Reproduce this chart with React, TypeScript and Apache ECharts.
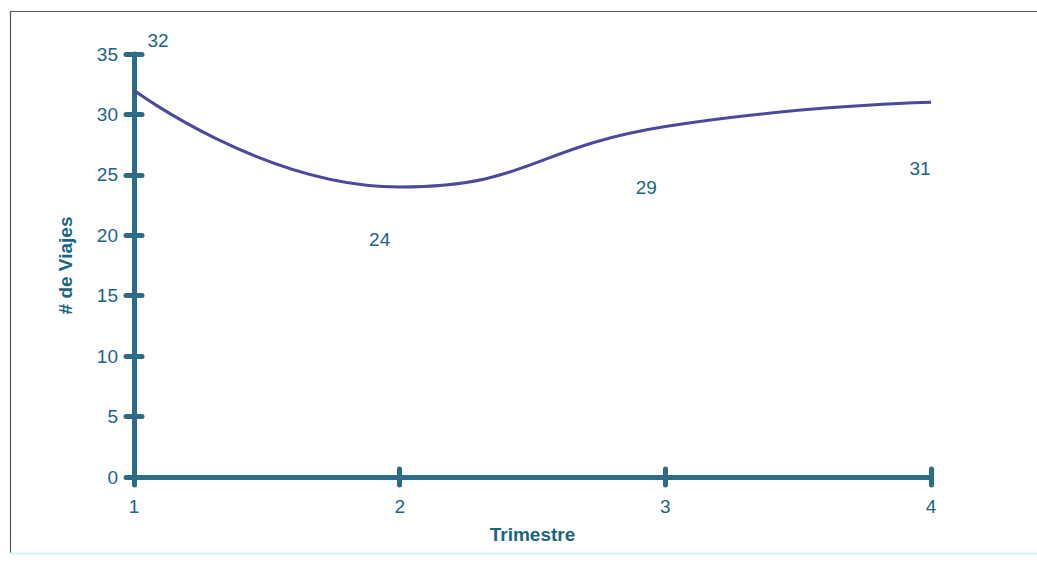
import React, { useEffect, useRef } from "react";
import * as echarts from "echarts";

// Trips per quarter
const quarters = ["1", "2", "3", "4"];
const trips = [32, 24, 29, 31];
// Where each value label sits relative to its point
const labelOffsets: [number, number][] = [
  [24, -50],
  [-20, 53],
  [-19, 61],
  [-11, 66],
];

const yMin = 0;
const yMax = 35;
const yStep = 5;

const axisColor = "#2b6c86";
const textColor = "#1a6585";
const lineColor = "#4c4a9c";
const font = "Liberation Sans, Arial, sans-serif";

export default function App() {
  const ref = useRef<HTMLDivElement>(null);

  useEffect(() => {
    if (!ref.current) return;
    const chart = echarts.init(ref.current, undefined, { renderer: "svg" });

    const tickStyle = { color: axisColor, width: 5, cap: "round" as const };

    chart.setOption({
      animation: false,
      backgroundColor: "#ffffff",
      grid: { left: 134, right: 106, top: 54, bottom: 86 },
      graphic: [
        {
          type: "line",
          shape: { x1: 10, y1: 11.5, x2: 1037, y2: 11.5 },
          style: { stroke: "#555", lineWidth: 1.2 },
        },
        {
          type: "line",
          shape: { x1: 10.5, y1: 11, x2: 10.5, y2: 553 },
          style: { stroke: "#555", lineWidth: 1.2 },
        },
        {
          type: "line",
          shape: { x1: 10, y1: 553.5, x2: 1037, y2: 553.5 },
          style: { stroke: "#d6f1f4", lineWidth: 2 },
        },
      ],
      xAxis: [
        {
          type: "category",
          data: quarters,
          boundaryGap: false,
          name: "Trimestre",
          nameLocation: "middle",
          nameGap: 48,
          nameTextStyle: {
            color: textColor,
            fontFamily: font,
            fontSize: 19,
            fontWeight: "bold",
          },
          axisLine: { lineStyle: { color: axisColor, width: 5 } },
          axisTick: { alignWithLabel: true, length: 8, lineStyle: tickStyle },
          axisLabel: {
            color: textColor,
            fontFamily: font,
            fontSize: 19,
            margin: 20,
          },
          splitLine: { show: false },
        },
        {
          type: "category",
          data: quarters,
          boundaryGap: false,
          position: "bottom",
          axisLine: { show: false },
          axisTick: { inside: true, length: 8, lineStyle: tickStyle },
          axisLabel: { show: false },
          splitLine: { show: false },
        },
      ],
      yAxis: [
        {
          type: "value",
          min: yMin,
          max: yMax,
          interval: yStep,
          name: "# de Viajes",
          nameLocation: "middle",
          nameGap: 59,
          nameTextStyle: {
            color: textColor,
            fontFamily: font,
            fontSize: 19,
            fontWeight: "bold",
          },
          axisLine: { show: true, lineStyle: { color: axisColor, width: 5 } },
          axisTick: { show: true, length: 8, lineStyle: tickStyle },
          axisLabel: {
            color: textColor,
            fontFamily: font,
            fontSize: 19,
            margin: 16,
          },
          splitLine: { show: false },
        },
        {
          type: "value",
          min: yMin,
          max: yMax,
          interval: yStep,
          position: "left",
          axisLine: { show: false },
          axisTick: { show: true, inside: true, length: 8, lineStyle: tickStyle },
          axisLabel: { show: false },
          splitLine: { show: false },
        },
      ],
      series: [
        {
          type: "line",
          data: trips.map((v, i) => ({
            value: v,
            label: { offset: labelOffsets[i] },
          })),
          smooth: 0.5,
          showSymbol: true,
          symbol: "circle",
          symbolSize: 1,
          itemStyle: { color: "rgba(0,0,0,0)" },
          lineStyle: { color: lineColor, width: 3 },
          label: {
            show: true,
            position: "inside",
            color: textColor,
            fontFamily: font,
            fontSize: 19,
          },
          z: 5,
        },
      ],
    });

    return () => chart.dispose();
  }, []);

  return (
    <div
      ref={ref}
      style={{ position: "fixed", left: 0, top: 0, width: 1037, height: 563 }}
    />
  );
}
